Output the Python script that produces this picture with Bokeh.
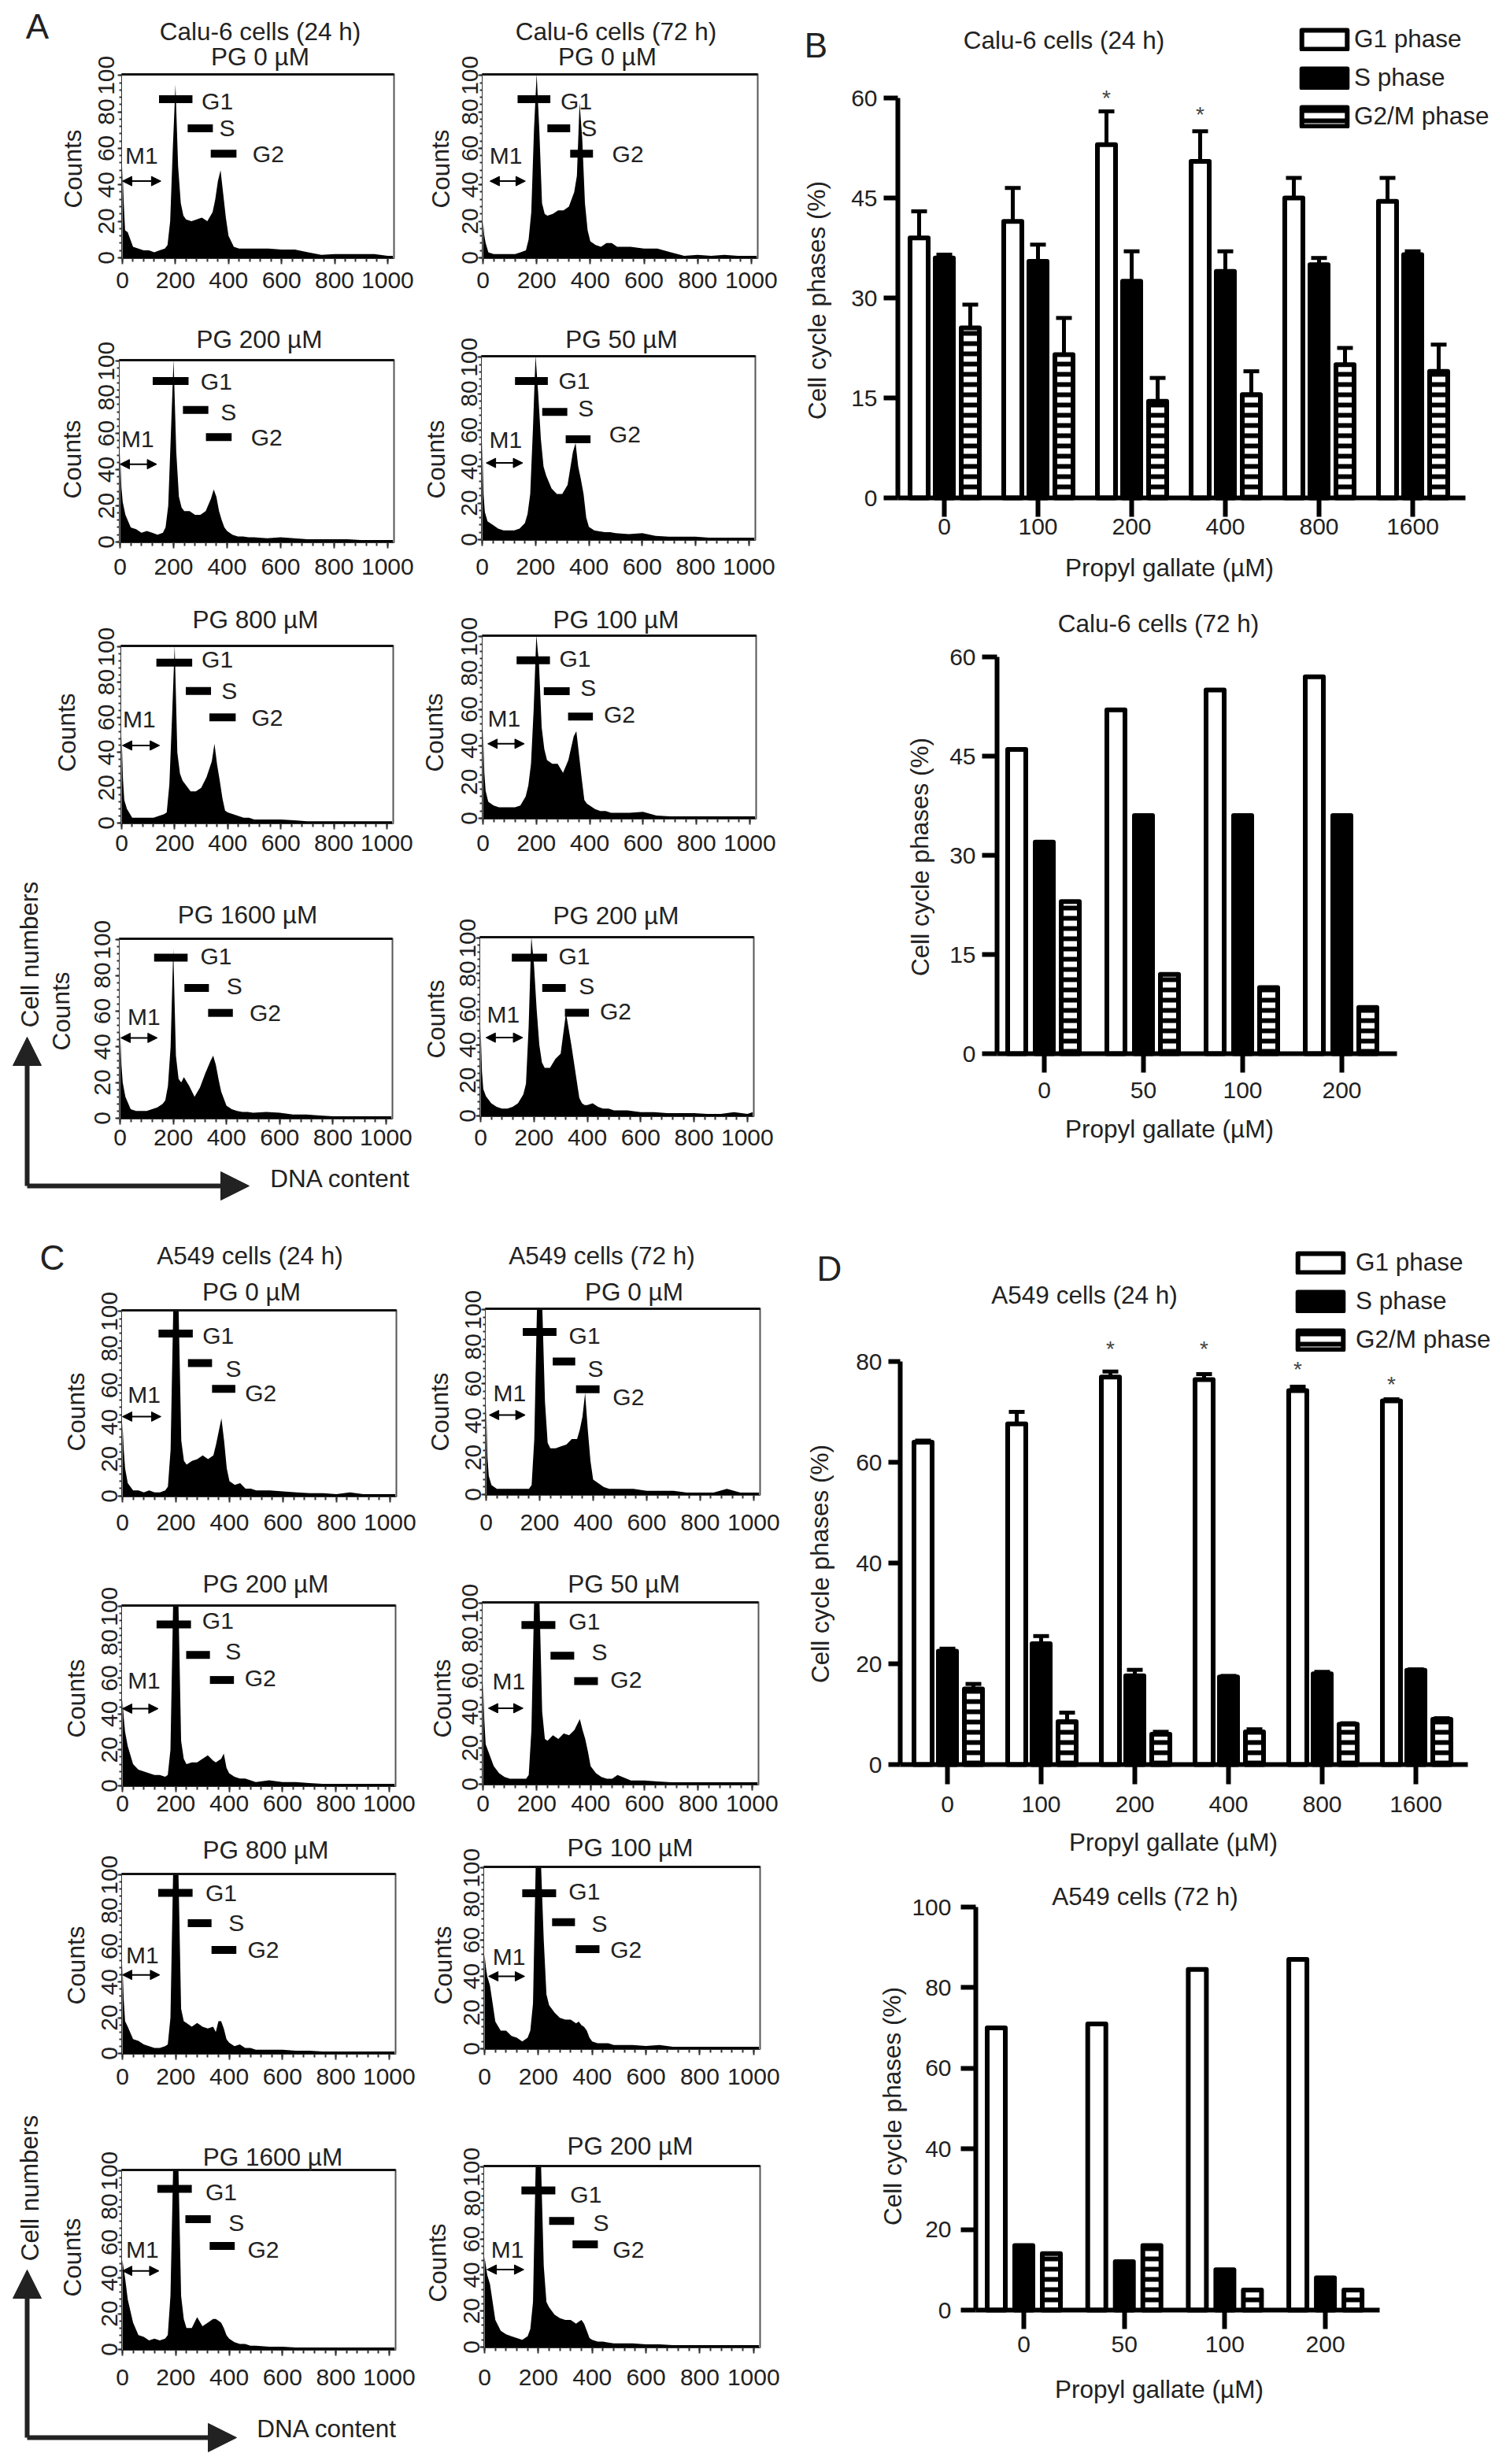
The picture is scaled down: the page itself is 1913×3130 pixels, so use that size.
from bokeh.plotting import figure
from bokeh.layouts import column, row
from bokeh.models import (Range1d, FixedTicker, Label, Arrow, NormalHead, Legend, LegendItem, Whisker, LinearAxis,
                          TeeHead, ColumnDataSource)
from bokeh.core.properties import value
from bokeh.embed import file_html
from bokeh.resources import INLINE

FONT = "Liberation Sans"
INK = "#222222"

# ---------- histogram data (DNA content channel -> counts) ----------
HIST_X = [0, 5, 10, 20, 40, 60, 80, 100, 120, 140, 160, 170, 180, 190, 200, 210, 220, 230, 240, 260, 280, 300, 320, 340,
          350, 360, 370, 380, 390, 400, 420, 440, 460, 480, 500, 550, 600, 650, 700, 750, 800, 850, 900, 950, 1000, 1020]

HIST_A1 = [50, 30, 15, 14, 6, 5, 4, 4, 3, 4, 5, 7, 20, 60, 95, 50, 30, 23, 21, 20, 21, 22, 20, 25, 32, 42, 48, 35, 22, 12, 6, 5, 5, 5, 5, 5, 4.5, 4.5, 3, 1.5, 2, 2, 2, 2, 1, 1]
HIST_A2 = [20, 12, 8, 3, 2, 2, 2, 2, 2, 3, 4, 10, 25, 70, 101, 70, 30, 24, 23, 24, 26, 26, 28, 36, 45, 85, 65, 30, 15, 9, 7, 6, 8, 8, 6, 6, 5, 5, 3, 1, 1.5, 1, 1.5, 1, 1, 1]
HIST_A3 = [50, 30, 22, 15, 8, 7, 5, 6, 5, 4, 5, 8, 20, 60, 101, 50, 25, 19, 17, 17, 15, 15, 17, 24, 29, 25, 17, 12, 8, 6, 4, 3, 3, 2.5, 2.5, 2, 2.5, 2, 1.5, 1.5, 1.5, 1.5, 1, 1, 1, 1]
HIST_A4 = [55, 25, 15, 10, 8, 6, 5, 5, 5, 6, 9, 14, 25, 60, 101, 80, 55, 40, 35, 28, 25, 25, 30, 48, 53, 40, 33, 25, 12, 7, 5, 4.5, 4, 4, 3.5, 3, 3.5, 2, 1.5, 1.5, 1.5, 1, 1, 1, 1, 1]
HIST_A5 = [50, 25, 13, 8, 3, 3, 3, 3, 3, 4, 5, 6, 22, 60, 101, 40, 28, 24, 22, 18, 18, 20, 26, 35, 45, 33, 24, 14, 7, 6, 5, 4, 3, 3, 2, 2, 2, 1.5, 1, 1, 1, 1, 1, 1, 1, 1]
HIST_A6 = [50, 25, 15, 9, 7, 6, 6, 6, 6, 7, 12, 18, 30, 60, 101, 85, 50, 38, 32, 30, 30, 25, 32, 45, 48, 35, 22, 10, 8, 7, 5, 4, 4, 3, 3, 3, 3.5, 1.5, 1, 1, 1, 1, 1, 1, 1, 1]
HIST_A7 = [50, 30, 20, 12, 5, 4, 4, 4, 5, 6, 8, 10, 18, 40, 95, 35, 22, 20, 23, 18, 12, 17, 25, 32, 35, 30, 22, 15, 11, 7, 5, 4, 3.5, 3.5, 3, 3.5, 3, 2, 2, 1.5, 1, 1, 1, 1, 1, 1]
HIST_A8 = [50, 25, 15, 11, 7, 5, 4, 4, 5, 7, 12, 18, 50, 101, 85, 60, 40, 30, 27, 27, 32, 35, 58, 40, 30, 20, 10, 7, 6, 6, 7, 5, 4, 4, 3, 3, 2, 2, 1.5, 1.5, 1.5, 1, 1, 2, 1, 2]
HIST_C1 = [40, 25, 15, 7, 3, 3, 2, 3, 2, 2, 3, 5, 25, 101, 101, 101, 30, 19, 17, 19, 20, 22, 20, 22, 28, 35, 42, 30, 15, 8, 6, 7, 4, 4, 3, 3, 2.5, 2, 1.5, 1.5, 1, 2, 1, 1, 1, 1]
HIST_C2 = [50, 20, 10, 5, 3, 3, 3, 3, 3, 3, 3, 5, 30, 101, 101, 101, 50, 28, 25, 25, 26, 27, 30, 30, 35, 42, 55, 35, 18, 8, 6, 4, 3, 3, 3, 3, 2, 2, 2, 1, 1, 1, 3, 1, 1, 1]
HIST_C3 = [48, 38, 30, 22, 12, 9, 8, 7, 6, 6, 5, 6, 20, 101, 101, 101, 25, 15, 12, 13, 13, 15, 17, 14, 13, 14, 15, 18, 10, 7, 5, 4, 4, 3, 2, 3, 2, 2, 1.5, 1, 1, 1, 1, 1, 1, 1]
HIST_C4 = [58, 35, 22, 18, 10, 6, 4, 3, 3, 3, 3, 5, 30, 101, 101, 101, 40, 25, 24, 27, 25, 28, 27, 30, 33, 36, 30, 25, 18, 10, 6, 4, 3, 3, 5, 2, 2, 1.5, 1, 1, 1, 1, 1, 1, 1, 1]
HIST_C5 = [50, 30, 18, 15, 8, 7, 5, 4, 3, 3, 4, 5, 20, 101, 101, 101, 25, 18, 17, 15, 17, 15, 14, 15, 12, 18, 18, 14, 8, 6, 4, 5, 3, 3, 2, 2, 2, 1.5, 1.5, 1, 1, 1, 1, 1, 1, 1]
HIST_C6 = [52, 45, 40, 35, 15, 10, 10, 7, 6, 4, 6, 10, 25, 101, 101, 101, 60, 30, 24, 20, 17, 16, 16, 14, 15, 13, 12, 10, 6, 4, 3, 3, 3, 2, 2, 2, 1.5, 2, 1, 1, 1, 1, 1, 1, 1, 1]
HIST_C7 = [50, 45, 40, 28, 15, 8, 7, 5, 6, 5, 6, 8, 30, 101, 101, 101, 30, 17, 12, 12, 18, 13, 15, 17, 17, 16, 15, 12, 8, 6, 4, 3, 3, 2, 2, 1.5, 1.5, 1, 1, 1, 1, 1, 1, 1, 1, 1]
HIST_C8 = [50, 45, 40, 35, 15, 9, 7, 6, 5, 4, 6, 10, 25, 101, 101, 101, 45, 25, 22, 18, 16, 15, 15, 13, 14, 15, 13, 9, 5, 4, 3, 3, 2.5, 2, 2, 2, 1.5, 1.5, 1, 1, 1, 1, 1, 1, 1, 1]

# gates: G1 (x0, x1, y), S (x0, x1, y), G2 (x0, x1, y), M1 (x0, x1, y)
GATE_A1 = [(138, 264, 87), (246, 341, 71), (333, 430, 57), (0, 145, 42)]
GATE_A2 = [(129, 251, 87), (240, 325, 71), (325, 410, 57), (26, 158, 42)]
GATE_A3 = [(122, 256, 89), (235, 330, 73), (321, 417, 58), (0, 137, 43)]
GATE_A4 = [(123, 246, 87), (225, 319, 70), (313, 406, 55), (15, 152, 42)]
GATE_A5 = [(131, 266, 91), (242, 337, 75), (331, 430, 60), (3, 143, 44)]
GATE_A6 = [(126, 251, 87), (228, 325, 70), (319, 412, 56), (18, 155, 41)]
GATE_A7 = [(128, 254, 90), (242, 334, 73), (331, 424, 59), (3, 140, 45)]
GATE_A8 = [(117, 249, 89), (231, 319, 72), (316, 406, 58), (20, 158, 44)]
GATE_C1 = [(135, 263, 88), (245, 335, 72), (335, 422, 58), (0, 144, 43)]
GATE_C2 = [(137, 263, 88), (249, 333, 72), (336, 424, 57), (12, 146, 43)]
GATE_C3 = [(128, 257, 90), (239, 328, 73), (328, 418, 59), (0, 134, 43)]
GATE_C4 = [(143, 269, 88), (251, 339, 71), (339, 427, 57), (20, 149, 42)]
GATE_C5 = [(134, 263, 90), (245, 334, 73), (334, 427, 58), (0, 140, 44)]
GATE_C6 = [(140, 266, 86), (251, 336, 70), (339, 427, 55), (15, 149, 40)]
GATE_C7 = [(131, 260, 90), (236, 331, 73), (327, 421, 58), (0, 137, 44)]
GATE_C8 = [(137, 263, 87), (240, 333, 70), (327, 421, 57), (9, 146, 43)]

# gate text anchors: G1, S, G2, M1 (x, y)
TAG_A1 = [(358, 86), (395, 71), (550, 57), (72, 56)]
TAG_A2 = [(348, 86), (395, 71), (540, 57), (85, 56)]
TAG_A3 = [(360, 89), (405, 72), (548, 58), (66, 57)]
TAG_A4 = [(345, 87), (389, 72), (535, 58), (88, 55)]
TAG_A5 = [(361, 93), (406, 75), (549, 60), (66, 59)]
TAG_A6 = [(345, 88), (395, 72), (512, 57), (79, 55)]
TAG_A7 = [(361, 91), (430, 74), (546, 59), (90, 57)]
TAG_A8 = [(351, 90), (398, 73), (506, 59), (85, 57)]
TAG_C1 = [(358, 87), (415, 69), (517, 56), (81, 55)]
TAG_C2 = [(368, 86), (409, 68), (532, 53), (88, 55)]
TAG_C3 = [(358, 92), (415, 75), (517, 60), (81, 59)]
TAG_C4 = [(377, 90), (433, 73), (532, 58), (96, 57)]
TAG_C5 = [(370, 90), (427, 73), (528, 58), (75, 55)]
TAG_C6 = [(371, 87), (427, 69), (526, 55), (91, 51)]
TAG_C7 = [(370, 88), (427, 71), (528, 56), (75, 56)]
TAG_C8 = [(377, 85), (433, 69), (535, 54), (85, 54)]

HIST_TICKS = [0, 200, 400, 600, 800, 1000]
COUNT_TICKS = [0, 20, 40, 60, 80, 100]

# ---------- bar chart data ----------
DOSES_24 = ["0", "100", "200", "400", "800", "1600"]
DOSES_72 = ["0", "50", "100", "200"]
PHASES = ["G1 phase", "S phase", "G2/M phase"]

B1_G1 = [39, 41.5, 53, 50.5, 45, 44.5]
B1_S = [36, 35.5, 32.5, 34, 35, 36.5]
B1_G2 = [25.5, 21.5, 14.5, 15.5, 20, 19]
B1_G1_UP = [43, 46.5, 58, 55, 48, 48]
B1_S_UP = [36.5, 38, 37, 37, 36, 37]
B1_G2_UP = [29, 27, 18, 19, 22.5, 23]
B1_STARS = [(2, 60), (3, 57.5)]

B2_G1 = [46, 52, 55, 57]
B2_S = [32, 36, 36, 36]
B2_G2 = [23, 12, 10, 7]

D1_G1 = [64, 67.6, 76.9, 76.4, 74.2, 72.2]
D1_S = [22.5, 24, 17.6, 17.4, 18, 18.7]
D1_G2 = [15, 8.5, 6, 6.5, 8, 9]
D1_G1_UP = [64.3, 70, 78, 77.5, 75, 72.5]
D1_S_UP = [23, 25.5, 18.8, 17.6, 18.4, 18.9]
D1_G2_UP = [16, 10.3, 6.5, 7, 8.2, 9.2]
D1_STARS = [(2, 82.5), (3, 82.5), (4, 78.5), (5, 75.5)]

D2_G1 = [70, 71, 84.5, 87]
D2_S = [16, 12, 10, 8]
D2_G2 = [14, 16, 5, 5]

# ---------- page layout (page pixels) ----------
COLX = [3, 532, 1005, 1905]
ROWY = [4, 395, 755, 1110, 1545, 1980, 2325, 2670, 3122]
BARY = [4, 760, 1560, 2385, 3122]
TEXT_PX = 31.5


class Mapper:
    """Page pixels <-> data units for a plot box (L, R, T, B) whose data span is xr, yr."""
    def __init__(self, L, R, T, B, xr, yr):
        self.L, self.R, self.T, self.B, self.xr, self.yr = L, R, T, B, xr, yr

    def x(self, px):
        return self.xr[0] + (px - self.L) / (self.R - self.L) * (self.xr[1] - self.xr[0])

    def y(self, py):
        return self.yr[1] - (py - self.T) / (self.B - self.T) * (self.yr[1] - self.yr[0])


def text_at(p, m, px, py, txt, size=TEXT_PX, angle=0, color=INK):
    p.add_layout(Label(x=m.x(px), y=m.y(py), text=txt, text_font=FONT, text_font_size=f"{size}px", text_color=color,
                       text_align="center", text_baseline="middle", angle=angle))


def canvas_fig(cx0, cx1, cy0, cy1, m):
    """The plot frame fills the whole canvas; axes sit inside it at fixed locations."""
    p = figure(width=cx1 - cx0, height=cy1 - cy0,
               x_range=Range1d(m.x(cx0), m.x(cx1)), y_range=Range1d(m.y(cy1), m.y(cy0)),
               x_axis_location=None, y_axis_location=None,
               output_backend="svg", toolbar_location=None, frame_align=False,
               min_border=0, min_border_left=0, min_border_right=0, min_border_top=0, min_border_bottom=0)
    p.outline_line_color = None
    p.grid.visible = False
    return p


def make_axis(**kw):
    return LinearAxis(major_label_text_font=FONT, major_label_text_font_size="30px", major_label_text_color=INK, **kw)


def hist_panel(col, rowi, L, R, T, B, series, gate, tag, title, tpos, cpos, yoff, xoff, head=None):
    xr, yr = (-3, 1024), (-0.5, 101)
    m = Mapper(L, R, T, B, xr, yr)
    p = canvas_fig(COLX[col], COLX[col + 1], ROWY[rowi], ROWY[rowi + 1], m)
    p.varea(x=HIST_X, y1=[-0.5] * len(HIST_X), y2=series, fill_color="black")
    p.segment(x0=[xr[1]], x1=[xr[1]], y0=[yr[0]], y1=[yr[1]], line_color="#555555", line_width=2)
    p.segment(x0=[xr[0]], x1=[xr[1]], y0=[100.6], y1=[100.6], line_color="#111111", line_width=3)
    ax = make_axis(ticker=FixedTicker(ticks=HIST_TICKS, minor_ticks=list(range(0, 1020, 40))),
                   fixed_location=yr[0], bounds=xr, major_tick_out=7, major_tick_in=0, minor_tick_out=4, minor_tick_in=0,
                   major_tick_line_width=2, minor_tick_line_width=2, major_tick_line_color="#333333",
                   minor_tick_line_color="#333333", axis_line_color="#333333",
                   major_label_standoff=max(0, xoff - 7 - 15))
    p.add_layout(ax, "below")
    ay = make_axis(ticker=FixedTicker(ticks=COUNT_TICKS, minor_ticks=list(range(0, 101, 4))),
                   fixed_location=xr[0], bounds=yr, major_tick_out=5, major_tick_in=0, minor_tick_out=3, minor_tick_in=0,
                   major_tick_line_width=2, minor_tick_line_width=2, major_tick_line_color="#333333",
                   minor_tick_line_color="#333333", axis_line_color="#333333",
                   major_label_orientation="vertical", major_label_standoff=max(0, yoff - 5 - 17))
    p.add_layout(ay, "left")
    for (x0, x1, y) in gate[:3]:
        p.segment(x0=[x0], x1=[x1], y0=[y], y1=[y], line_color="black", line_width=10)
    mx0, mx1, my = gate[3]
    p.add_layout(Arrow(x_start=mx0, y_start=my, x_end=mx1, y_end=my, line_width=2, line_color="black",
                       start=NormalHead(size=12, fill_color="black", line_color="black"),
                       end=NormalHead(size=12, fill_color="black", line_color="black")))
    for name, (tx, ty) in zip(["G1", "S", "G2", "M1"], tag):
        p.add_layout(Label(x=tx, y=ty, text=name, text_font=FONT, text_font_size="30px", text_color=INK,
                           text_align="center", text_baseline="middle"))
    text_at(p, m, tpos[0], tpos[1], title)
    if head:
        text_at(p, m, head[1], head[2], head[0])
    text_at(p, m, cpos[0], cpos[1], "Counts", angle=1.5708)
    return p, m


def axes_arrows(p, m, xc, ytip, ycorner, xtip, dna, cell):
    for (x0, y0, x1, y1) in [(xc, ycorner, xc, ytip), (xc, ycorner, xtip, ycorner)]:
        p.add_layout(Arrow(x_start=m.x(x0), y_start=m.y(y0), x_end=m.x(x1), y_end=m.y(y1),
                           line_width=6, line_color=INK,
                           end=NormalHead(size=36, fill_color=INK, line_color=INK)))
    text_at(p, m, dna[0], dna[1], "DNA content")
    text_at(p, m, cell[0], cell[1], "Cell numbers", angle=1.5708)


def bar_panel(cy0, cy1, L, B, top_val, top_px, tick0, sp, offs, y_ticks, cats, g1, s, g2, axis_end,
              ytick_out, xtick_out, ystand, xstand, title, tpos, xlab, ylab, ups=None, stars=None, legend=None):
    R = COLX[3]
    per = (B - top_px) / top_val
    yr = (0, (B - cy0) / per)
    xr = ((L - tick0) / sp, (R - tick0) / sp)
    m = Mapper(L, R, cy0, B, xr, yr)
    p = canvas_fig(COLX[2], COLX[3], cy0, cy1, m)
    xs = list(range(len(cats)))
    w = 23 / sp
    common = dict(width=w, bottom=0, line_color="black", line_width=6, line_join="round")
    r1 = p.vbar(x=[i + offs[0] / sp for i in xs], top=g1, fill_color="white", **common)
    r2 = p.vbar(x=[i + offs[1] / sp for i in xs], top=s, fill_color="black", **common)
    r3 = p.vbar(x=[i + offs[2] / sp for i in xs], top=g2, fill_color="white", hatch_pattern="horizontal_line",
                hatch_color="black", hatch_weight=6, hatch_scale=13, **common)
    if ups:
        for off, base, up in zip(offs, (g1, s, g2), ups):
            src = ColumnDataSource(dict(x=[i + off / sp for i in xs], lo=base, hi=up))
            p.add_layout(Whisker(source=src, base="x", lower="lo", upper="hi", dimension="height", line_color="black",
                                 line_width=5, lower_head=None,
                                 upper_head=TeeHead(size=20, line_color="black", line_width=5)))
    if stars:
        p.text(x=[i + offs[0] / sp for i, _ in stars], y=[v for _, v in stars], text=["*"] * len(stars),
               text_font=value(FONT), text_font_size="28px", text_color="#444444", text_align="center",
               text_baseline="middle")
    ax = make_axis(ticker=FixedTicker(ticks=xs), major_label_overrides={i: c for i, c in zip(xs, cats)},
                   fixed_location=0, bounds=(xr[0], (axis_end - tick0) / sp), axis_line_width=6, axis_line_color="black",
                   major_tick_line_width=6, major_tick_line_color="black", major_tick_out=xtick_out, major_tick_in=0,
                   minor_tick_out=0, minor_tick_in=0, major_label_standoff=xstand)
    p.add_layout(ax, "below")
    ay = make_axis(ticker=FixedTicker(ticks=y_ticks), fixed_location=xr[0], bounds=(0, top_val), axis_line_width=6,
                   axis_line_color="black", major_tick_line_width=6, major_tick_line_color="black",
                   major_tick_out=ytick_out, major_tick_in=0, minor_tick_out=0, minor_tick_in=0,
                   major_label_standoff=ystand)
    p.add_layout(ay, "left")
    text_at(p, m, tpos[0], tpos[1], title)
    text_at(p, m, xlab[0], xlab[1], "Propyl gallate (\u00b5M)")
    text_at(p, m, ylab[0], ylab[1], "Cell cycle phases (%)", angle=1.5708)
    if legend:
        box_left, box_bottom, standoff = legend
        lg = Legend(items=[LegendItem(label=PHASES[i], renderers=[r]) for i, r in enumerate((r1, r2, r3))],
                    location=(box_left - COLX[2], cy1 - box_bottom), margin=0, padding=0, border_line_color=None,
                    background_fill_alpha=0, glyph_width=72, glyph_height=30, label_standoff=standoff, spacing=12,
                    label_text_font=FONT, label_text_font_size=f"{TEXT_PX}px", label_text_color=INK)
        p.add_layout(lg)
    return p, m


# ---------- panels A and C ----------
a1, m = hist_panel(0, 0, 157, 503, 97, 332, HIST_A1, GATE_A1, TAG_A1, "PG 0 \u00b5M", (333, 75), (95, 218), 26, 32,
                   head=("Calu-6 cells (24 h)", 333, 43))
text_at(a1, m, 50, 37, "A", size=44)
a3, _ = hist_panel(0, 1, 154, 503, 460, 693, HIST_A3, GATE_A3, TAG_A3, "PG 200 \u00b5M", (332, 434), (94, 587), 23, 35)
a5, _ = hist_panel(0, 2, 156, 502, 823, 1050, HIST_A5, GATE_A5, TAG_A5, "PG 800 \u00b5M", (327, 790), (87, 934), 25, 29)
a7, m = hist_panel(0, 3, 154, 501, 1195, 1425, HIST_A7, GATE_A7, TAG_A7, "PG 1600 \u00b5M", (317, 1165), (80, 1288), 28, 28)
axes_arrows(a7, m, 37, 1321, 1510, 319, (435, 1500), (40, 1216))
c1, m = hist_panel(0, 4, 157, 506, 1667, 1905, HIST_C1, GATE_C1, TAG_C1, "PG 0 \u00b5M", (322, 1644), (99, 1797), 21, 37,
                   head=("A549 cells (24 h)", 320, 1598))
text_at(c1, m, 69, 1601, "C", size=44)
c3, _ = hist_panel(0, 5, 157, 505, 2042, 2273, HIST_C3, GATE_C3, TAG_C3, "PG 200 \u00b5M", (340, 2015), (99, 2161), 21, 26)
c5, _ = hist_panel(0, 6, 157, 505, 2383, 2613, HIST_C5, GATE_C5, TAG_C5, "PG 800 \u00b5M", (340, 2353), (99, 2500), 21, 33)
c7, m = hist_panel(0, 7, 157, 505, 2759, 2989, HIST_C7, GATE_C7, TAG_C7, "PG 1600 \u00b5M", (349, 2743), (94, 2871), 21, 39)
axes_arrows(c7, m, 37, 2887, 3100, 303, (418, 3088), (40, 2783))

a2, _ = hist_panel(1, 0, 615, 965, 97, 332, HIST_A2, GATE_A2, TAG_A2, "PG 0 \u00b5M", (774, 75), (562, 218), 19, 32,
                   head=("Calu-6 cells (72 h)", 785, 43))
a4, _ = hist_panel(1, 1, 614, 962, 455, 690, HIST_A4, GATE_A4, TAG_A4, "PG 50 \u00b5M", (792, 434), (556, 587), 22, 38)
a6, _ = hist_panel(1, 2, 615, 963, 810, 1044, HIST_A6, GATE_A6, TAG_A6, "PG 100 \u00b5M", (785, 790), (554, 934), 23, 35)
a8, _ = hist_panel(1, 3, 612, 960, 1193, 1422, HIST_A8, GATE_A8, TAG_A8, "PG 200 \u00b5M", (785, 1166), (556, 1298), 20, 31)
c2, _ = hist_panel(1, 4, 619, 968, 1665, 1903, HIST_C2, GATE_C2, TAG_C2, "PG 0 \u00b5M", (808, 1644), (561, 1797), 22, 39,
                   head=("A549 cells (72 h)", 767, 1598))
c4, _ = hist_panel(1, 5, 615, 966, 2038, 2271, HIST_C4, GATE_C4, TAG_C4, "PG 50 \u00b5M", (795, 2015), (564, 2161), 19, 28)
c6, _ = hist_panel(1, 6, 617, 968, 2374, 2607, HIST_C6, GATE_C6, TAG_C6, "PG 100 \u00b5M", (803, 2350), (565, 2500), 20, 39)
c8, _ = hist_panel(1, 7, 617, 968, 2754, 2986, HIST_C8, GATE_C8, TAG_C8, "PG 200 \u00b5M", (803, 2729), (558, 2878), 20, 42)

# ---------- panels B and D ----------
b1, m = bar_panel(BARY[0], BARY[1], 1143, 636, 60, 128, 1202, 119, (-32, 0, 33), [0, 15, 30, 45, 60], DOSES_24,
                  B1_G1, B1_S, B1_G2, 1864, 18, 24, 8, 2, "Calu-6 cells (24 h)", (1354, 54), (1488, 724), (1040, 385),
                  ups=(B1_G1_UP, B1_S_UP, B1_G2_UP), stars=B1_STARS, legend=(1649, 170, 2))
text_at(b1, m, 1039, 61, "B", size=44)
b2, _ = bar_panel(BARY[1], BARY[2], 1269, 1342, 60, 838, 1329, 126, (-35, 0, 33), [0, 15, 30, 45, 60], DOSES_72,
                  B2_G1, B2_S, B2_G2, 1777, 19, 24, 8, 12, "Calu-6 cells (72 h)", (1474, 795), (1488, 1437), (1171, 1092))
d1, m = bar_panel(BARY[2], BARY[3], 1146, 2245, 80, 1733, 1206, 119, (-31, 0, 33), [0, 20, 40, 60, 80], DOSES_24,
                  D1_G1, D1_S, D1_G2, 1867, 15, 25, 8, 15, "A549 cells (24 h)", (1380, 1648), (1493, 2343), (1044, 1990),
                  ups=(D1_G1_UP, D1_S_UP, D1_G2_UP), stars=D1_STARS, legend=(1644, 1724, 9))
text_at(d1, m, 1056, 1615, "D", size=44)
d2, _ = bar_panel(BARY[3], BARY[4], 1242, 2938, 100, 2426, 1303, 127.7, (-35, 0, 35), [0, 20, 40, 60, 80, 100], DOSES_72,
                  D2_G1, D2_S, D2_G2, 1755, 19, 24, 12, 9, "A549 cells (72 h)", (1457, 2412), (1475, 3038), (1136, 2679))

page = row(column(a1, a3, a5, a7, c1, c3, c5, c7, spacing=0),
           column(a2, a4, a6, a8, c2, c4, c6, c8, spacing=0),
           column(b1, b2, d1, d2, spacing=0), spacing=0)

open("out.html", "w").write(file_html(page, INLINE))
